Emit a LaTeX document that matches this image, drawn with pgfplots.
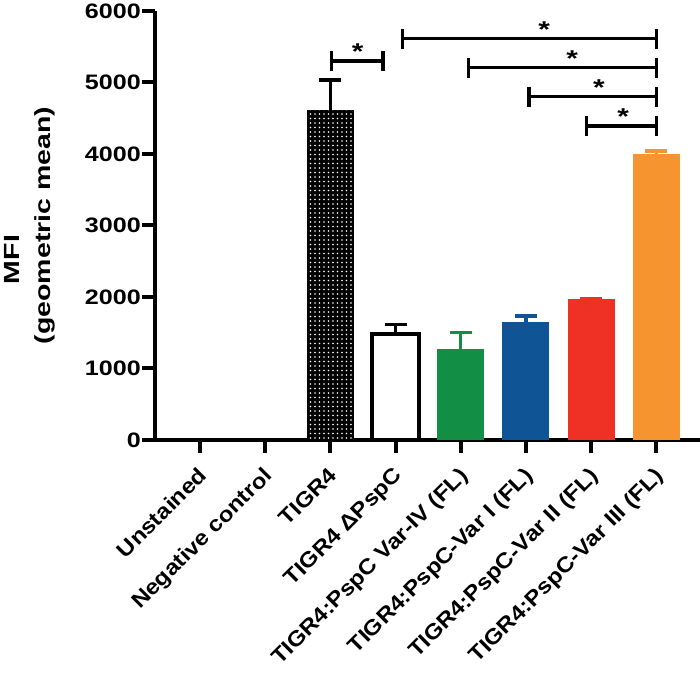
\documentclass[border=0pt]{standalone}
\usepackage{pgfplots}
\pgfplotsset{compat=1.18}
\usepackage{fontspec}
\setmainfont{Liberation Sans}[FakeStretch=1.3]
\newfontfamily\tickfont{Liberation Sans}[FakeStretch=1.2]
\newfontfamily\xlabfont{Liberation Sans}[FakeStretch=1.12]
\usetikzlibrary{patterns}
\pgfdeclarepatternformonly{mydots}{\pgfqpoint{-1bp}{-1bp}}{\pgfqpoint{1bp}{1bp}}{\pgfqpoint{4.5bp}{4.5bp}}{\pgfpathcircle{\pgfqpoint{0bp}{0bp}}{0.85bp}\pgfusepath{fill}}
\definecolor{cgreen}{HTML}{138F45}
\definecolor{cblue}{HTML}{0F5595}
\definecolor{cred}{HTML}{EE3124}
\definecolor{corange}{HTML}{F6952F}
\pgfplotsset{
  br/.style={black, line width=3.5bp, no markers},
  mybar/.style={ybar, bar width=0.72, /pgf/bar shift=0pt, draw=none},
  myerr/.style={error bars/.cd, y dir=plus, y explicit,
    error bar style={line width=3.5bp, #1},
    error mark options={rotate=90, line width=3.5bp, mark size=11bp, #1}},
}
\tikzset{sigstar/.style={anchor=base, inner sep=0pt, font=\bfseries\fontsize{23}{23}\selectfont}}
\begin{document}
\begin{tikzpicture}
\begin{axis}[
  scale only axis, width=545bp, height=429bp,
  xmin=-0.69, xmax=7.67, ymin=0, ymax=6000,
  axis lines=left, axis line style={-, line width=4.5bp},
  clip=false,
  tick align=outside, major tick length=13bp,
  tick style={black, line width=4bp},
  xtick={0,...,7},
  xticklabels={Unstained, Negative control, TIGR4, TIGR4 ΔPspC, TIGR4:PspC Var-IV (FL), TIGR4:PspC-Var I (FL), TIGR4:PspC-Var II (FL), TIGR4:PspC-Var III (FL)},
  xticklabel style={yshift=-10bp, xshift=-3bp, rotate=45, anchor=north east, inner sep=2bp, font=\xlabfont\bfseries\fontsize{21.5}{24}\selectfont},
  ytick={0,1000,...,6000},
  yticklabels={0,1000,2000,3000,4000,5000,6000},
  yticklabel style={inner sep=1bp, font=\tickfont\bfseries\fontsize{21}{24}\selectfont},
  /pgf/number format/assume math mode=true,
  ylabel={MFI\hspace*{68bp}\\(geometric mean)},
  ylabel style={font=\bfseries\fontsize{22}{31}\selectfont, align=center, at={(axis description cs:-0.1835,0.5)}, anchor=south, inner sep=0pt},
]
% bars
\addplot[mybar, fill=black] coordinates {(1,25)};
\addplot[mybar, fill=black, postaction={pattern=mydots, pattern color=white}, myerr=black] coordinates {(2,4615) +- (0,420)};
\addplot[ybar, bar width=0.72, /pgf/bar shift=0pt, fill=white, draw=black, line width=4bp, myerr=black] coordinates {(3,1485) +- (0,133)};
\addplot[mybar, fill=cgreen, myerr=cgreen] coordinates {(4,1273) +- (0,233)};
\addplot[mybar, fill=cblue, myerr=cblue] coordinates {(5,1655) +- (0,79)};
\addplot[mybar, fill=cred, myerr=cred] coordinates {(6,1968) +- (0,14)};
\addplot[mybar, fill=corange, myerr=corange] coordinates {(7,4000) +- (0,42)};
% significance brackets
\addplot[br] coordinates {(2.02,5300) (2.81,5300)};
\addplot[br] coordinates {(2.02,5160) (2.02,5440)};
\addplot[br] coordinates {(2.81,5160) (2.81,5440)};
\addplot[br] coordinates {(3.11,5612) (7.0,5612)};
\addplot[br] coordinates {(3.11,5472) (3.11,5752)};
\addplot[br] coordinates {(7.0,5472) (7.0,5752)};
\addplot[br] coordinates {(4.12,5207) (7.0,5207)};
\addplot[br] coordinates {(4.12,5067) (4.12,5347)};
\addplot[br] coordinates {(7.0,5067) (7.0,5347)};
\addplot[br] coordinates {(5.05,4802) (7.0,4802)};
\addplot[br] coordinates {(5.05,4662) (5.05,4942)};
\addplot[br] coordinates {(7.0,4662) (7.0,4942)};
\addplot[br] coordinates {(5.93,4392) (7.0,4392)};
\addplot[br] coordinates {(5.93,4252) (5.93,4532)};
\addplot[br] coordinates {(7.0,4252) (7.0,4532)};
\node[sigstar] at (axis cs:2.42,5320) {*};
\node[sigstar] at (axis cs:5.28,5632) {*};
\node[sigstar] at (axis cs:5.71,5227) {*};
\node[sigstar] at (axis cs:6.12,4822) {*};
\node[sigstar] at (axis cs:6.49,4412) {*};
\end{axis}
\pgfresetboundingbox
\path[use as bounding box] ([shift={(-155bp,-241bp)}]current axis.south west) rectangle ([shift={(0bp,11bp)}]current axis.north east);
\end{tikzpicture}
\end{document}
